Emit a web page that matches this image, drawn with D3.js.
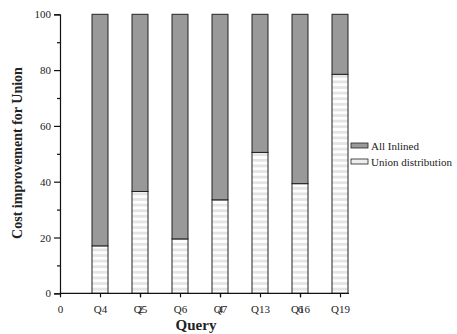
<!DOCTYPE html>
<html><head><meta charset="utf-8">
<script src="https://cdn.jsdelivr.net/npm/d3@7"></script>
<style>body{margin:0;background:#fff}svg{display:block}text{font-family:"Liberation Serif","Times New Roman",serif;fill:#222}</style>
</head><body>
<script>
const categories = ["Q4","Q5","Q6","Q7","Q13","Q16","Q19"];
const unionDist = [17, 36.5, 19.5, 33.5, 50.5, 39.3, 78.5];
const allInlined = unionDist.map(v => 100 - v);
const yTicks = [0,20,40,60,80,100];
const yMinor = [10,30,50,70,90];
const xNumTicks = [0,2,4,6];
const legendLabels = ["All Inlined","Union distribution"];

const W=457,H=334;
const svg=d3.select("body").append("svg").attr("width",W).attr("height",H);
const defs=svg.append("defs");
const pat=defs.append("pattern").attr("id","stripes").attr("patternUnits","userSpaceOnUse")
  .attr("width",8).attr("height",5.6).attr("y",293.3);
pat.append("rect").attr("width",8).attr("height",5.6).attr("fill","#fff");
pat.append("rect").attr("width",8).attr("height",2.8).attr("fill","#e4e4e4");

const x=d3.scaleLinear().domain([0,7.225]).range([60,349]);
const y=d3.scaleLinear().domain([0,100]).range([293.3,14.3]);
const bw=16;

const g=svg.append("g");
// union bars
g.selectAll(".u").data(unionDist).join("rect")
 .attr("x",(d,i)=>x(i+1)-bw/2).attr("width",bw)
 .attr("y",d=>y(d)).attr("height",d=>y(0)-y(d))
 .attr("fill","url(#stripes)").attr("stroke","#222").attr("stroke-width",1);
// inlined bars
g.selectAll(".a").data(allInlined).join("rect")
 .attr("x",(d,i)=>x(i+1)-bw/2).attr("width",bw)
 .attr("y",(d,i)=>y(unionDist[i]+d)).attr("height",(d,i)=>y(unionDist[i])-y(unionDist[i]+d))
 .attr("fill","#999999").attr("stroke","#222").attr("stroke-width",1);

// y axis
const ya=svg.append("g").attr("transform","translate(60,0)")
 .call(d3.axisLeft(y).tickValues(yTicks).tickSize(6).tickPadding(3).tickFormat(d3.format("d")));
const ym=svg.append("g").attr("transform","translate(60,0)")
 .call(d3.axisLeft(y).tickValues(yMinor).tickSize(3).tickFormat(""));
ym.select(".domain").remove();
// x axis
const xa=svg.append("g").attr("transform","translate(0,293.3)")
 .call(d3.axisBottom(x).tickValues(categories.map((c,i)=>i+1)).tickSize(4).tickPadding(8).tickFormat((d)=>categories[d-1]));
const xn=svg.append("g").attr("transform","translate(0,293.3)")
 .call(d3.axisBottom(x).tickValues(xNumTicks).tickSize(4).tickPadding(8).tickFormat(d3.format("d")));
xn.select(".domain").remove();
[ya,ym,xa,xn].forEach(a=>{
  a.selectAll("path,line").attr("stroke","#111").attr("stroke-width",1.2);
  a.selectAll("text").attr("font-size",11).attr("fill","#222")
   .attr("font-family","'Liberation Serif',serif");
});
xa.select(".domain").attr("d","M60,0H349");

// titles
svg.append("text").attr("x",196).attr("y",330).attr("text-anchor","middle")
 .attr("font-size",15).attr("font-weight","bold").text("Query");
svg.append("text").attr("transform","translate(22,153) rotate(-90)").attr("text-anchor","middle")
 .attr("font-size",14).attr("font-weight","bold").text("Cost improvement for Union");

// legend
const lg=svg.append("g");
const fills=["#999999","url(#stripes)"];
legendLabels.forEach((t,i)=>{
  const yy=143+i*16;
  lg.append("rect").attr("x",351).attr("y",yy).attr("width",17).attr("height",5)
    .attr("fill",i===0?"#999999":"#eeeeee").attr("stroke","#222").attr("stroke-width",0.8);
  lg.append("text").attr("x",371).attr("y",yy+6.5).attr("font-size",11).text(t);
});
</script>
</body></html>
